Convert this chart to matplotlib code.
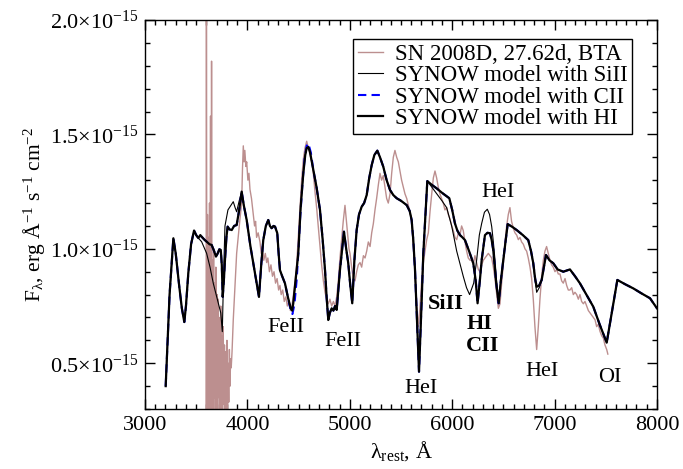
import matplotlib
matplotlib.use("Agg")
import matplotlib.pyplot as plt
from matplotlib.ticker import MultipleLocator, FuncFormatter

plt.rcParams["font.family"] = ["Liberation Serif", "DejaVu Serif"]
plt.rcParams["mathtext.fontset"] = "custom"
plt.rcParams["mathtext.rm"] = "Liberation Serif"
plt.rcParams["mathtext.it"] = "Liberation Serif:italic"
plt.rcParams["mathtext.bf"] = "Liberation Serif:bold"

# observed spectrum, flux in units of 1e-15
obs_wave = [3596, 3600, 3605, 3610, 3615, 3620, 3625, 3630, 3635, 3640, 3645, 3650,
            3655, 3660, 3665, 3670, 3675, 3680, 3686, 3692, 3698, 3704, 3710, 3716,
            3722, 3728, 3734, 3740, 3746, 3752, 3758, 3764, 3770, 3776, 3782, 3788,
            3794, 3800, 3806, 3812, 3818, 3824, 3830, 3836, 3842, 3850,
            3862, 3880, 3895, 3910, 3925, 3944, 3952, 3960, 3968, 3975, 3985, 3993,
            4005, 4015, 4025, 4040, 4050, 4058, 4070, 4080, 4090, 4105, 4123, 4135,
            4145, 4160, 4175, 4188, 4200, 4215, 4230, 4245, 4260, 4275, 4290, 4305,
            4318, 4330, 4345, 4360, 4375, 4390, 4405, 4420, 4435, 4450, 4465, 4481,
            4497, 4514, 4530, 4546, 4562, 4579, 4595, 4611, 4628, 4644, 4660, 4676,
            4692, 4709, 4725, 4742, 4758, 4774, 4790, 4806, 4823, 4840, 4856, 4872,
            4888, 4904, 4920, 4936, 4953, 4965, 4980, 4992, 5002, 5018, 5034, 5051,
            5067, 5083, 5100, 5116, 5133, 5149, 5165, 5181, 5198, 5214, 5230, 5246,
            5262, 5279, 5295, 5311, 5327, 5344, 5360, 5376, 5393, 5409, 5425, 5441,
            5458, 5474, 5490, 5506, 5523, 5539, 5556, 5572, 5588, 5604, 5620, 5637,
            5653, 5669, 5685, 5702, 5718, 5734, 5751, 5767, 5783, 5800, 5816, 5832,
            5848, 5864, 5880, 5897, 5913, 5929, 5946, 5962, 5979, 5995, 6011, 6027,
            6044, 6060, 6076, 6092, 6108, 6125, 6141, 6157, 6174, 6190, 6206, 6222,
            6239, 6255, 6271, 6288, 6304, 6320, 6337, 6353, 6369, 6386, 6402, 6418,
            6435, 6451, 6467, 6483, 6499, 6516, 6532, 6548, 6564, 6580, 6597, 6613,
            6630, 6646, 6662, 6678, 6695, 6711, 6727, 6743, 6760, 6776, 6792, 6808,
            6825, 6841, 6857, 6874, 6890, 6906, 6922, 6939, 6955, 6971, 6987, 7004,
            7020, 7036, 7053, 7069, 7085, 7102, 7118, 7134, 7150, 7167, 7183, 7199,
            7216, 7232, 7248, 7264, 7281, 7297, 7313, 7330, 7346, 7362, 7378, 7395,
            7411, 7427, 7443, 7460, 7476, 7492, 7509, 7520]
obs_flux = [0.25, 2.10, 0.20, 1.15, 0.30, 1.05, 0.25, 1.20, 0.28, 1.58, 0.22, 1.82,
            0.30, 0.95, 0.25, 1.00, 0.35, 0.85, 0.20, 0.92, 0.30, 0.80, 0.22, 0.78,
            0.35, 0.70, 0.25, 0.75, 0.30, 0.62, 0.22, 0.66, 0.32, 0.58, 0.25, 0.55,
            0.30, 0.60, 0.27, 0.50, 0.33, 0.56, 0.40, 0.52, 0.48, 0.55,
            0.69, 0.85, 0.98, 1.05, 1.12, 1.20, 1.35, 1.45, 1.38, 1.43, 1.36, 1.38,
            1.30, 1.33, 1.26, 1.22, 1.18, 1.15, 1.10, 1.12, 1.05, 1.07, 1.03, 0.98,
            1.01, 0.95, 0.98, 0.94, 0.96, 0.90, 0.93, 0.88, 0.90, 0.85, 0.87, 0.82,
            0.84, 0.80, 0.82, 0.77, 0.79, 0.75, 0.77, 0.73, 0.75, 0.80, 0.86, 0.93,
            1.05, 1.18, 1.30, 1.39, 1.44, 1.47, 1.44, 1.41, 1.38, 1.33, 1.25, 1.18,
            1.10, 1.02, 0.93, 0.86, 0.81, 0.78, 0.76, 0.78, 0.75, 0.77, 0.75, 0.79,
            0.86, 0.96, 1.04, 1.12, 1.19, 1.13, 1.05, 1.00, 0.98, 0.92, 0.87, 0.86,
            0.90, 0.93, 0.94, 0.92, 0.97, 0.96, 0.99, 1.03, 1.01, 1.07, 1.11, 1.17,
            1.22, 1.28, 1.33, 1.30, 1.32, 1.27, 1.22, 1.20, 1.24, 1.33, 1.40, 1.43,
            1.40, 1.38, 1.34, 1.30, 1.27, 1.24, 1.22, 1.19, 1.16, 1.12, 1.02, 0.90,
            0.76, 0.66, 0.74, 0.86, 0.94, 0.99, 1.04, 1.07, 1.16, 1.24, 1.31, 1.34,
            1.31, 1.27, 1.24, 1.22, 1.20, 1.17, 1.18, 1.15, 1.13, 1.10, 1.08, 1.05,
            1.04, 1.07, 1.06, 1.10, 1.08, 1.03, 0.99, 0.96, 0.95, 0.95, 0.93, 0.97,
            0.94, 0.91, 0.90, 0.93, 0.95, 0.96, 0.97, 0.98, 0.97, 0.96, 0.92, 0.87,
            0.80, 0.74, 0.76, 0.85, 0.93, 1.03, 1.10, 1.15, 1.18, 1.12, 1.09, 1.07,
            1.06, 1.04, 1.05, 1.03, 1.02, 1.00, 0.99, 0.96, 0.92, 0.87, 0.78, 0.66,
            0.56, 0.66, 0.78, 0.88, 0.95, 0.99, 1.01, 0.98, 0.95, 0.93, 0.92, 0.90,
            0.91, 0.89, 0.89, 0.86, 0.85, 0.87, 0.84, 0.82, 0.82, 0.83, 0.80, 0.81,
            0.80, 0.78, 0.80, 0.77, 0.76, 0.77, 0.75, 0.73, 0.72, 0.71, 0.70, 0.69,
            0.66, 0.67, 0.64, 0.62, 0.61, 0.58, 0.56, 0.54]

# SYNOW model with HI (thick black)
hi_wave = [3202, 3240, 3277, 3300, 3335, 3360, 3384, 3400, 3423, 3450, 3479, 3500,
           3521, 3540, 3553, 3580, 3602, 3630, 3651, 3675, 3693, 3710, 3726, 3740,
           3750, 3759, 3770, 3781, 3795, 3807, 3825, 3847, 3870, 3895, 3920, 3944,
           3965, 3993, 4030, 4074, 4113, 4135, 4155, 4180, 4204, 4220, 4237, 4255,
           4270, 4292, 4305, 4318, 4340, 4367, 4395, 4423, 4437, 4448, 4470, 4497,
           4520, 4546, 4565, 4579, 4595, 4611, 4644, 4675, 4709, 4735, 4758, 4775,
           4790, 4805, 4823, 4840, 4856, 4872, 4904, 4943, 4965, 4985, 5005, 5024,
           5045, 5067, 5090, 5116, 5140, 5165, 5190, 5214, 5240, 5269, 5295, 5327,
           5360, 5393, 5425, 5458, 5500, 5556, 5585, 5604, 5620, 5637, 5655, 5676,
           5700, 5718, 5740, 5757, 5800, 5849, 5900, 5972, 6000, 6027, 6050, 6076,
           6100, 6125, 6165, 6206, 6230, 6248, 6270, 6288, 6320, 6345, 6369, 6385,
           6401, 6430, 6454, 6475, 6499, 6542, 6590, 6630, 6690, 6743, 6770, 6792,
           6810, 6825, 6850, 6874, 6916, 6950, 6987, 7030, 7085, 7150, 7200, 7248,
           7310, 7378, 7440, 7509, 7613, 7690, 7769, 7850, 7932, 8000]
hi_flux = [0.40, 0.80, 1.046, 0.98, 0.834, 0.74, 0.68, 0.75, 0.894, 1.02, 1.08, 1.06,
           1.047, 1.06, 1.053, 1.04, 1.031, 1.02, 1.017, 0.99, 0.966, 0.98, 0.998, 0.995,
           0.93, 0.79, 0.86, 0.951, 1.05, 1.097, 1.085, 1.082, 1.10, 1.104, 1.17, 1.25,
           1.19, 1.126, 1.01, 0.894, 0.79, 0.93, 1.038, 1.10, 1.126, 1.10, 1.09, 1.10,
           1.097, 1.068, 0.98, 0.907, 0.88, 0.849, 0.79, 0.74, 0.73, 0.762, 0.86, 0.98,
           1.18, 1.33, 1.41, 1.44, 1.445, 1.424, 1.344, 1.27, 1.17, 1.04, 0.907, 0.78,
           0.689, 0.72, 0.74, 0.73, 0.75, 0.733, 0.907, 1.075, 1.00, 0.937, 0.84, 0.762,
           0.95, 1.082, 1.15, 1.184, 1.20, 1.235, 1.31, 1.366, 1.41, 1.429, 1.40, 1.359,
           1.30, 1.257, 1.235, 1.221, 1.21, 1.191, 1.165, 1.126, 1.04, 0.907, 0.70, 0.463,
           0.75, 0.98, 1.16, 1.296, 1.28, 1.264, 1.245, 1.221, 1.17, 1.111, 1.08, 1.06,
           1.05, 1.038, 0.99, 0.937, 0.86, 0.762, 0.86, 0.951, 1.06, 1.07, 1.068, 1.04,
           0.995, 0.85, 0.762, 0.86, 0.951, 1.108, 1.095, 1.082, 1.06, 1.038, 0.99, 0.937,
           0.87, 0.834, 0.84, 0.864, 0.973, 0.95, 0.937, 0.91, 0.90, 0.91, 0.88, 0.849,
           0.80, 0.747, 0.67, 0.59, 0.864, 0.845, 0.827, 0.805, 0.784, 0.74]

# SYNOW model with SiII (thin black)
si_wave = [3202, 3240, 3277, 3300, 3335, 3360, 3384, 3400, 3423, 3450, 3479, 3500,
           3521, 3553, 3602, 3635, 3667, 3716, 3740, 3755, 3768, 3781, 3810, 3830,
           3862, 3880, 3895, 3920, 3944, 3965, 3993, 4030, 4074, 4113, 4135, 4155,
           4180, 4204, 4220, 4237, 4255, 4270, 4292, 4305, 4318, 4340, 4367, 4395,
           4423, 4437, 4448, 4470, 4497, 4520, 4546, 4565, 4579, 4595, 4611, 4644,
           4675, 4709, 4735, 4758, 4775, 4790, 4805, 4823, 4840, 4856, 4872, 4904,
           4943, 4965, 4985, 5005, 5024, 5045, 5067, 5090, 5116, 5140, 5165, 5190,
           5214, 5240, 5269, 5295, 5327, 5360, 5393, 5425, 5458, 5500, 5556, 5585,
           5604, 5620, 5637, 5655, 5676, 5700, 5718, 5740, 5757, 5800, 5850, 5900,
           5946, 5995, 6044, 6108, 6140, 6170, 6210, 6239, 6265, 6288, 6315, 6343,
           6365, 6386, 6402, 6418, 6435, 6454, 6475, 6499, 6542, 6590, 6630, 6690,
           6743, 6770, 6792, 6810, 6825, 6850, 6874, 6916, 6950, 6987, 7030, 7085,
           7150, 7200, 7248, 7310, 7378, 7440, 7509, 7613, 7690, 7769, 7850, 7932,
           8000]
si_flux = [0.40, 0.80, 1.046, 0.98, 0.834, 0.74, 0.68, 0.75, 0.894, 1.02, 1.08, 1.06,
           1.047, 1.031, 0.98, 0.92, 0.849, 0.762, 0.72, 0.638, 0.90, 1.10, 1.17, 1.184,
           1.206, 1.18, 1.162, 1.21, 1.25, 1.19, 1.126, 1.01, 0.894, 0.79, 0.93, 1.038,
           1.10, 1.126, 1.10, 1.09, 1.10, 1.097, 1.068, 0.98, 0.907, 0.88, 0.849, 0.79,
           0.74, 0.73, 0.762, 0.86, 0.98, 1.18, 1.33, 1.41, 1.44, 1.445, 1.424, 1.344,
           1.27, 1.17, 1.04, 0.907, 0.78, 0.689, 0.72, 0.74, 0.73, 0.75, 0.733, 0.907,
           1.075, 1.00, 0.937, 0.84, 0.762, 0.95, 1.082, 1.15, 1.184, 1.20, 1.235, 1.31,
           1.366, 1.41, 1.429, 1.40, 1.359, 1.30, 1.257, 1.235, 1.221, 1.21, 1.191, 1.165,
           1.126, 1.04, 0.907, 0.70, 0.463, 0.75, 0.98, 1.16, 1.296, 1.27, 1.24, 1.21,
           1.18, 1.10, 0.99, 0.88, 0.83, 0.80, 0.85, 0.951, 1.06, 1.111, 1.16, 1.173,
           1.15, 1.097, 1.03, 0.951, 0.85, 0.762, 0.86, 0.951, 1.108, 1.095, 1.082, 1.06,
           1.038, 0.99, 0.93, 0.86, 0.81, 0.83, 0.864, 0.973, 0.95, 0.937, 0.91, 0.90,
           0.91, 0.88, 0.849, 0.80, 0.747, 0.67, 0.59, 0.864, 0.845, 0.827, 0.805, 0.784,
           0.74]

# SYNOW model with CII (blue dashed)
c_wave = [3202, 3240, 3277, 3300, 3335, 3360, 3384, 3400, 3423, 3450, 3479, 3500,
          3521, 3540, 3553, 3580, 3602, 3630, 3651, 3675, 3693, 3710, 3726, 3740,
          3750, 3759, 3770, 3781, 3795, 3807, 3825, 3847, 3870, 3895, 3920, 3944,
          3965, 3993, 4030, 4074, 4113, 4135, 4155, 4180, 4204, 4220, 4237, 4255,
          4270, 4292, 4305, 4318, 4340, 4367, 4395, 4423, 4440, 4460, 4481, 4500,
          4514, 4540, 4560, 4579, 4595, 4620, 4644, 4675, 4709, 4735, 4758, 4775,
          4790, 4805, 4823, 4840, 4856, 4872, 4904, 4943, 4965, 4985, 5005, 5024,
          5045, 5067, 5090, 5116, 5140, 5165, 5190, 5214, 5240, 5269, 5295, 5327,
          5360, 5393, 5425, 5458, 5500, 5556, 5585, 5604, 5620, 5637, 5655, 5676,
          5700, 5718, 5740, 5757, 5800, 5849, 5900, 5972, 6000, 6027, 6050, 6076,
          6100, 6125, 6165, 6206, 6230, 6248, 6270, 6288, 6320, 6345, 6369, 6385,
          6401, 6430, 6454, 6475, 6499, 6542, 6590, 6630, 6690, 6743, 6770, 6792,
          6810, 6825, 6850, 6874, 6916, 6950, 6987, 7030, 7085, 7150, 7200, 7248,
          7310, 7378, 7440, 7509, 7613, 7690, 7769, 7850, 7932, 8000]
c_flux = [0.40, 0.80, 1.046, 0.98, 0.834, 0.74, 0.68, 0.75, 0.894, 1.02, 1.08, 1.06,
          1.047, 1.06, 1.053, 1.04, 1.031, 1.02, 1.017, 0.99, 0.966, 0.98, 0.998, 0.995,
          0.93, 0.79, 0.86, 0.951, 1.05, 1.097, 1.085, 1.082, 1.10, 1.104, 1.17, 1.25,
          1.19, 1.126, 1.01, 0.894, 0.79, 0.93, 1.038, 1.10, 1.126, 1.10, 1.09, 1.10,
          1.097, 1.068, 0.98, 0.907, 0.88, 0.849, 0.79, 0.73, 0.715, 0.76, 0.864, 1.00,
          1.126, 1.30, 1.40, 1.45, 1.461, 1.42, 1.344, 1.27, 1.17, 1.04, 0.907, 0.78,
          0.689, 0.72, 0.74, 0.73, 0.75, 0.733, 0.907, 1.075, 1.00, 0.937, 0.84, 0.762,
          0.95, 1.082, 1.15, 1.184, 1.20, 1.235, 1.31, 1.366, 1.41, 1.429, 1.40, 1.359,
          1.30, 1.257, 1.235, 1.221, 1.21, 1.191, 1.165, 1.126, 1.04, 0.907, 0.70, 0.463,
          0.75, 0.98, 1.16, 1.296, 1.28, 1.264, 1.245, 1.221, 1.17, 1.111, 1.08, 1.06,
          1.05, 1.038, 0.99, 0.937, 0.86, 0.762, 0.86, 0.951, 1.06, 1.07, 1.068, 1.04,
          0.995, 0.85, 0.762, 0.86, 0.951, 1.108, 1.095, 1.082, 1.06, 1.038, 0.99, 0.937,
          0.87, 0.834, 0.84, 0.864, 0.973, 0.95, 0.937, 0.91, 0.90, 0.91, 0.88, 0.849,
          0.80, 0.747, 0.67, 0.59, 0.864, 0.845, 0.827, 0.805, 0.784, 0.74]

# line identifications: (text, wavelength, flux, bold)
labels = [("FeII", 4377, 0.656, False), ("FeII", 4929, 0.595, False),
          ("HeI", 5695, 0.39, False), ("SiII", 5940, 0.761, True),
          ("HI", 6267, 0.671, True), ("CII", 6301, 0.575, True),
          ("HeI", 6452, 1.246, False), ("HeI", 6877, 0.464, False),
          ("OI", 7541, 0.437, False)]

fig = plt.figure(figsize=(6.83, 4.69), dpi=100)
ax = fig.add_axes([0.2123, 0.1279, 0.7496, 0.8295])

ax.plot(obs_wave, obs_flux, color="#bc8f8f", lw=1.0, label="SN 2008D, 27.62d, BTA")
ax.plot(si_wave, si_flux, color="black", lw=0.8, label="SYNOW model with SiII")
ax.plot(c_wave, c_flux, color="blue", lw=1.5, ls=(0, (4, 2.5)), label="SYNOW model with CII")
ax.plot(hi_wave, hi_flux, color="black", lw=1.6, label="SYNOW model with HI")

for txt, x, y, bold in labels:
    ax.text(x, y, txt, ha="center", va="center", fontsize=16,
            fontweight="bold" if bold else "normal")

ax.set_xlim(3000, 8000)
ax.set_ylim(0.3, 2.0)
ax.xaxis.set_major_locator(MultipleLocator(1000))
ax.xaxis.set_minor_locator(MultipleLocator(100))
ax.yaxis.set_major_locator(MultipleLocator(0.5))
ax.yaxis.set_minor_locator(MultipleLocator(0.1))
ax.yaxis.set_major_formatter(FuncFormatter(lambda v, p: r"$\mathrm{%.1f{\times}10^{-15}}$" % v))
ax.tick_params(which="both", direction="in", top=True, right=True, labelsize=16, width=1)
ax.tick_params(which="major", length=7, pad=5)
ax.tick_params(which="minor", length=3.5)
for s in ax.spines.values():
    s.set_linewidth(1)

ax.set_xlabel(r"$\mathrm{\lambda_{rest}}$, Å", fontsize=16, labelpad=3)
ax.set_ylabel(r"$\mathrm{F_{\lambda}}$, erg Å$^{\mathrm{-1}}$ s$^{\mathrm{-1}}$ cm$^{\mathrm{-2}}$",
              fontsize=15.5, labelpad=2)

leg = ax.legend(loc="upper right", bbox_to_anchor=(0.951, 0.951), borderaxespad=0,
                fontsize=16.5, handlelength=1.1, labelspacing=0.02, handletextpad=0.5,
                borderpad=0.2, fancybox=False, framealpha=1, edgecolor="black")
leg.get_frame().set_linewidth(1)

fig.savefig("out.png", dpi=100)
